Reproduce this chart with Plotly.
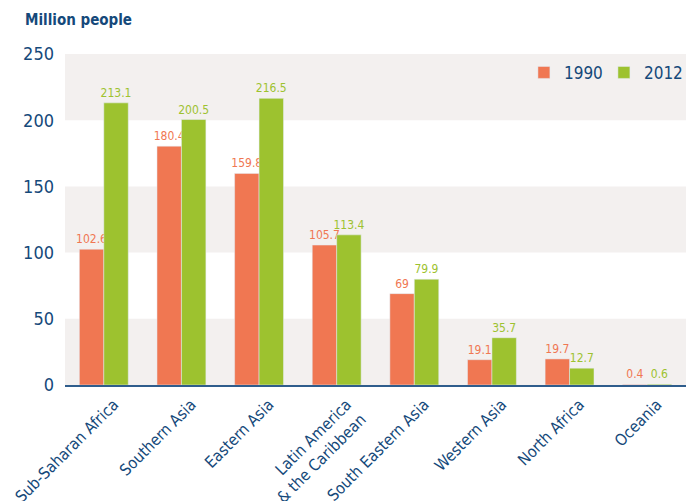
import plotly.graph_objects as go

categories = ["Sub-Saharan Africa", "Southern Asia", "Eastern Asia",
              "Latin America<br>& the Caribbean", "South Eastern Asia",
              "Western Asia", "North Africa", "Oceania"]
values_1990 = [102.6, 180.4, 159.8, 105.7, 69, 19.1, 19.7, 0.4]
values_2012 = [213.1, 200.5, 216.5, 113.4, 79.9, 35.7, 12.7, 0.6]
labels_1990 = ["102.6", "180.4", "159.8", "105.7", "69", "19.1", "19.7", "0.4"]
labels_2012 = ["213.1", "200.5", "216.5", "113.4", "79.9", "35.7", "12.7", "0.6"]
y_ticks = [0, 50, 100, 150, 200, 250]

ORANGE = "#F07752"
GREEN = "#9DC22F"
BLUE = "#15497A"
BAND = "#F3F0EF"
FONT = "DejaVu Sans Condensed, Liberation Sans Narrow, Roboto, sans-serif"

fig = go.Figure()
fig.add_trace(go.Bar(x=categories, y=values_1990, name="1990", marker_color=ORANGE,
                     text=labels_1990, textposition="outside", constraintext="none",
                     textfont=dict(color=ORANGE, size=12, family=FONT), cliponaxis=False))
fig.add_trace(go.Bar(x=categories, y=values_2012, name="2012", marker_color=GREEN,
                     text=labels_2012, textposition="outside", constraintext="none",
                     textfont=dict(color=GREEN, size=12, family=FONT), cliponaxis=False))

for lo, hi in [(0, 50), (100, 150), (200, 250)]:
    fig.add_shape(type="rect", xref="paper", yref="y", x0=0, x1=1, y0=lo, y1=hi,
                  fillcolor=BAND, line_width=0, layer="below")

fig.update_layout(
    width=686, height=501,
    margin=dict(l=65, r=0, t=54, b=116),
    paper_bgcolor="white", plot_bgcolor="white",
    barmode="group", bargap=0.37, bargroupgap=0,
    font=dict(family=FONT, color=BLUE),
    showlegend=True,
    legend=dict(orientation="h", x=0.739, xanchor="left", y=0.943, yanchor="middle",
                bgcolor="rgba(0,0,0,0)", font=dict(size=17, color=BLUE),
                itemwidth=30, entrywidth=35, traceorder="normal"),
    xaxis=dict(tickangle=-45, tickfont=dict(size=16, color=BLUE), showline=True,
               linecolor="#2F5D8C", linewidth=2, ticks="", showgrid=False,
               automargin=False, ticklabelshift=10, ticklabelstandoff=2),
    yaxis=dict(range=[0, 250], tickvals=y_ticks, tickfont=dict(size=18, color=BLUE),
               showgrid=False, zeroline=False, ticks="", ticklabelstandoff=10,
               automargin=False),
    annotations=[dict(text="<b>Million people</b>", xref="paper", yref="paper",
                      x=-0.068, y=1.0, yshift=34, xanchor="left", yanchor="middle",
                      showarrow=False, font=dict(size=15, color=BLUE, family=FONT))],
)

fig.write_html("out.html", config={"displayModeBar": False},
               post_script="document.body.style.margin='0';")
